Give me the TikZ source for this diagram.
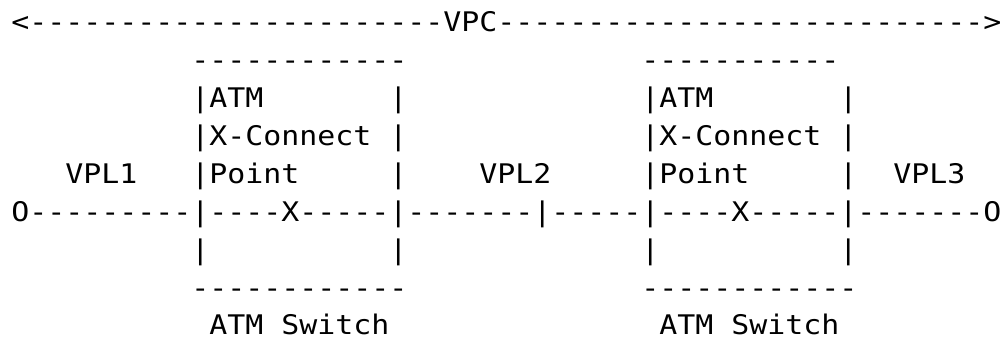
\documentclass[tikz,border=0pt]{standalone}
\usepackage{fontspec}
\setmonofont[FakeStretch=1.1074]{DejaVu Sans Mono}

\begin{document}
\begin{tikzpicture}[x=9pt,y=-19pt]
\useasboundingbox (-0.611,-0.579) rectangle (55.278,8.342);
\begin{scope}[every node/.style={anchor=base west,inner sep=0pt,
              font=\ttfamily\fontsize{13.5pt}{19pt}\selectfont}]
    % line 0: the VPC span
    \node (vpc) at (0,0.26) {<-----------------------VPC--------------------------->};
    % top edges of the two switches
    \node (topA) at (10,1.26) {------------};
    \node (topB) at (35,1.26) {-----------};
    \node (atmA) at (10,2.26) {|ATM};
    \node (atmAr) at (21,2.26) {|};
    \node (atmB) at (35,2.26) {|ATM};
    \node (atmBr) at (46,2.26) {|};
    \node (xcA) at (10,3.26) {|X-Connect |};
    \node (xcB) at (35,3.26) {|X-Connect |};
    \node (vpl1) at (3,4.26) {VPL1};
    \node (ptA) at (10,4.26) {|Point};
    \node (ptAr) at (21,4.26) {|};
    \node (vpl2) at (26,4.26) {VPL2};
    \node (ptB) at (35,4.26) {|Point};
    \node (ptBr) at (46,4.26) {|};
    \node (vpl3) at (49,4.26) {VPL3};
    % line 5: the links
    \node (links) at (0,5.26) {O---------|----X-----|-------|-----|----X-----|-------O};
    \node (lowA) at (10,6.26) {|};
    \node (lowAr) at (21,6.26) {|};
    \node (lowB) at (35,6.26) {|};
    \node (lowBr) at (46,6.26) {|};
    % bottom edges and captions
    \node (botA) at (10,7.26) {------------};
    \node (botB) at (35,7.26) {------------};
    \node (swA) at (11,8.22) {ATM Switch};
    \node (swB) at (36,8.22) {ATM Switch};
\end{scope}
\end{tikzpicture}
\end{document}
